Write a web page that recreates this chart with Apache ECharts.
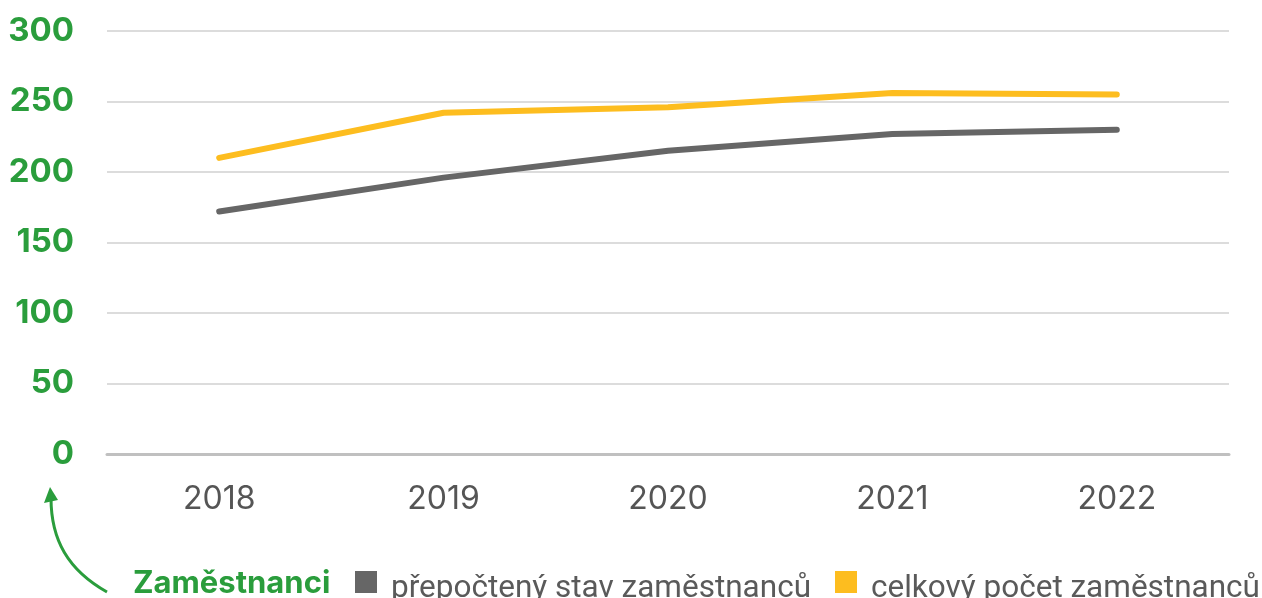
<!DOCTYPE html>
<html>
<head>
<meta charset="utf-8">
<script src="https://cdn.jsdelivr.net/npm/echarts@6/dist/echarts.min.js"></script>
<style>
  html, body { margin: 0; padding: 0; background: #fff; }
  #chart { width: 1262px; height: 598px; }
</style>
</head>
<body>
<div id="chart"></div>
<script>
// data
var years = ['2018', '2019', '2020', '2021', '2022'];
var prepocteny = [172, 196, 215, 227, 230];
var celkovy = [210, 242, 246, 256, 255];
var yTicks = [0, 50, 100, 150, 200, 250, 300];

var GREEN = '#2a9d3c';
var GRAY = '#666666';
var YELLOW = '#fdbd1f';

var myChart = echarts.init(document.getElementById('chart'));

var option = {
    animation: false,
    title: {
        text: 'Zaměstnanci',
        left: 128,
        top: 563,
        textStyle: { color: GREEN, fontFamily: 'Inter', fontWeight: 'bold', fontSize: 31 }
    },
    legend: {
        left: 355,
        top: 571,
        width: 1000,
        padding: 0,
        itemWidth: 22,
        itemHeight: 37,
        itemGap: 24,
        // square sits at the top of the item box so the text ends up a bit lower
        icon: 'path://M0,0L22,0L22,22L0,22Z M0,37L0.1,37',
        itemStyle: { borderWidth: 0 },
        textStyle: {
            color: '#5a5a5a',
            fontFamily: 'Roboto',
            fontSize: 31.5,
            padding: [0, 0, 0, 9]
        },
        data: ['přepočtený stav zaměstnanců', 'celkový počet zaměstnanců']
    },
    grid: { left: 107, right: 33, top: 31, bottom: 144 },
    xAxis: {
        type: 'category',
        data: years,
        axisLine: { lineStyle: { color: '#c0c0c0', width: 3 } },
        axisTick: { show: false },
        axisLabel: { color: '#555', fontFamily: 'Inter', fontSize: 32, margin: 29 }
    },
    yAxis: {
        type: 'value',
        min: yTicks[0],
        max: yTicks[yTicks.length - 1],
        interval: 50,
        axisLine: { show: false },
        axisTick: { show: false },
        splitLine: { lineStyle: { color: '#dcdcdc', width: 2 } },
        axisLabel: { color: GREEN, fontFamily: 'Inter', fontWeight: 'bold', fontSize: 33, margin: 33 }
    },
    series: [
        {
            name: 'přepočtený stav zaměstnanců',
            type: 'line',
            data: prepocteny,
            symbol: 'none',
            color: GRAY,
            lineStyle: { width: 6, color: GRAY, cap: 'round', join: 'round' }
        },
        {
            name: 'celkový počet zaměstnanců',
            type: 'line',
            data: celkovy,
            symbol: 'none',
            color: YELLOW,
            lineStyle: { width: 6, color: YELLOW, cap: 'round', join: 'round' }
        }
    ],
    // curved arrow pointing at the axis
    graphic: [
        {
            type: 'bezierCurve',
            shape: { x1: 107, y1: 592, cpx1: 68, cpy1: 570, cpx2: 51, cpy2: 540, x2: 51, y2: 498 },
            style: { stroke: GREEN, lineWidth: 3, fill: null }
        },
        {
            type: 'polygon',
            shape: { points: [[50, 487], [44, 503], [58, 500]] },
            style: { fill: GREEN }
        }
    ]
};

myChart.setOption(option);
</script>
</body>
</html>
